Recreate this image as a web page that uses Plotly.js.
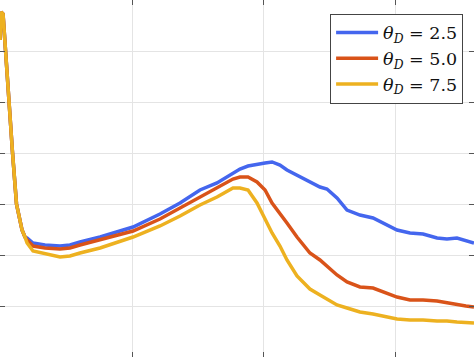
<!DOCTYPE html>
<html>
<head>
<meta charset="utf-8">
<script src="https://cdn.plot.ly/plotly-3.0.1.min.js"></script>
<style>
html,body{margin:0;padding:0;background:#fff;overflow:hidden;}
#chart{width:474px;height:357px;}
</style>
</head>
<body>
<div id="chart"></div>
<script>
// time axis values (arbitrary units, grid every 1)
const t = [0, 0.008, 0.023, 0.042, 0.064, 0.095, 0.125, 0.144, 0.167, 0.189,
  0.205, 0.25, 0.341, 0.455, 0.53, 0.606, 0.758, 1.008, 1.212, 1.364,
  1.515, 1.644, 1.765, 1.818, 1.879, 1.947, 2.008, 2.061, 2.121, 2.174,
  2.25, 2.348, 2.424, 2.477, 2.553, 2.629, 2.727, 2.826, 2.902, 3.008,
  3.106, 3.205, 3.311, 3.386, 3.462, 3.53, 3.591];

const seriesNames = [
  '<i>θ</i><sub><i>D</i></sub>&nbsp;=&nbsp;2.5',
  '<i>θ</i><sub><i>D</i></sub>&nbsp;=&nbsp;5.0',
  '<i>θ</i><sub><i>D</i></sub>&nbsp;=&nbsp;7.5'];

const yTheta25 = [6.216, 6.765, 6.725, 6.0, 5.020, 4.0, 3.0, 2.725, 2.490, 2.353,
  2.333, 2.235, 2.196, 2.176, 2.196, 2.255, 2.353, 2.549, 2.804, 3.020,
  3.275, 3.412, 3.608, 3.686, 3.745, 3.784, 3.804, 3.824, 3.765, 3.667,
  3.569, 3.431, 3.333, 3.294, 3.118, 2.882, 2.784, 2.725, 2.627, 2.490,
  2.431, 2.412, 2.333, 2.314, 2.333, 2.275, 2.235];

const yTheta50 = [6.216, 6.765, 6.725, 6.0, 5.020, 4.0, 3.0, 2.725, 2.490, 2.353,
  2.294, 2.176, 2.137, 2.118, 2.137, 2.196, 2.294, 2.471, 2.706, 2.922,
  3.137, 3.314, 3.490, 3.529, 3.529, 3.431, 3.275, 3.020, 2.824, 2.627,
  2.353, 2.039, 1.902, 1.784, 1.608, 1.471, 1.373, 1.353, 1.275, 1.176,
  1.118, 1.118, 1.098, 1.059, 1.020, 1.0, 0.980];

const yTheta75 = [6.216, 6.765, 6.725, 6.0, 5.020, 4.0, 3.0, 2.725, 2.490, 2.353,
  2.235, 2.078, 2.020, 1.961, 1.980, 2.039, 2.137, 2.353, 2.569, 2.765,
  2.980, 3.137, 3.314, 3.314, 3.275, 3.020, 2.706, 2.431, 2.176, 1.902,
  1.588, 1.333, 1.216, 1.137, 1.020, 0.961, 0.882, 0.843, 0.804, 0.745,
  0.725, 0.725, 0.706, 0.706, 0.686, 0.667, 0.667];

const colors = ['#4466ee', '#d95319', '#edb120'];
const ys = [yTheta25, yTheta50, yTheta75];

const xTicks = [1, 2, 3];
const yTicks = [1, 2, 3, 4, 5, 6];

const data = ys.map((y, i) => ({
  x: t, y: y, type: 'scatter', mode: 'lines', name: seriesNames[i],
  line: {color: colors[i], width: 3.5}
}));

const axisCommon = {
  showticklabels: false, ticks: 'inside', ticklen: 5, tickwidth: 1, tickcolor: '#555',
  mirror: 'ticks', showline: false, zeroline: false,
  showgrid: true, gridcolor: '#e4e4e4', gridwidth: 1
};

const layout = {
  width: 474, height: 357,
  margin: {l: 0, r: 0, t: 0, b: 0, pad: 0},
  paper_bgcolor: '#fff', plot_bgcolor: '#fff',
  showlegend: true,
  legend: {
    x: 0.977, y: 0.962, xanchor: 'right', yanchor: 'top',
    bgcolor: '#fff', bordercolor: '#444', borderwidth: 1,
    font: {family: 'DejaVu Serif, serif', size: 17.5, color: '#111'},
    itemwidth: 42
  },
  xaxis: Object.assign({range: [0, 3.591], tickvals: xTicks}, axisCommon),
  yaxis: Object.assign({range: [0, 7], tickvals: yTicks}, axisCommon)
};

Plotly.newPlot('chart', data, layout, {displayModeBar: false, staticPlot: true});
</script>
</body>
</html>
